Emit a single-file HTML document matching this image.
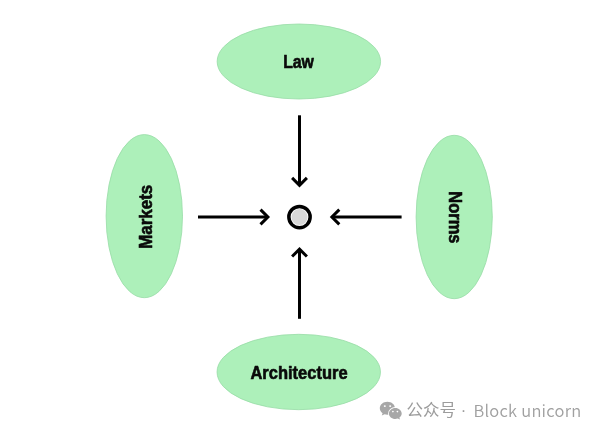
<!DOCTYPE html>
<html>
<head>
<meta charset="utf-8">
<title>Law, Norms, Markets, Architecture</title>
<style>
html,body{margin:0;padding:0;background:#fff;}
body{width:600px;height:435px;overflow:hidden;position:relative;}
svg{display:block;position:absolute;left:0;top:0;will-change:transform;}
.lbl{font-family:"Liberation Sans","DejaVu Sans",sans-serif;font-weight:bold;font-size:17.2px;fill:#0a0a0a;stroke:#0a0a0a;stroke-width:0.6px;stroke-linejoin:round;text-anchor:middle;}
.wm{font-family:"Noto Sans CJK SC","Liberation Sans",sans-serif;font-weight:350;font-size:16.5px;fill:#a0a0a0;}
.wmc{font-family:"Liberation Sans","Noto Sans CJK SC",sans-serif;font-weight:400;font-size:16.5px;fill:#9c9c9c;}
</style>
</head>
<body>
<svg width="600" height="435" viewBox="0 0 600 435">
  <rect width="600" height="435" fill="#ffffff"/>
  <g fill="#adf0ba" stroke="#97dca6" stroke-width="0.8">
    <ellipse cx="298.85" cy="61.5" rx="81.7" ry="37.5"/>
    <ellipse cx="298.75" cy="372" rx="81.7" ry="37.7"/>
    <ellipse cx="144.3" cy="216.15" rx="38.2" ry="81.55"/>
    <ellipse cx="454.2" cy="217" rx="38.1" ry="81.7"/>
  </g>
  <g fill="none" stroke="#000" stroke-width="3" stroke-linecap="butt" stroke-linejoin="miter">
    <path d="M299.5 115.3V185.3"/>
    <path d="M292.1 177.9L299.5 185.3L306.9 177.9"/>
    <path d="M299.5 318.8V249.1"/>
    <path d="M292.1 256.5L299.5 249.1L306.9 256.5"/>
    <path d="M198 217H267.9"/>
    <path d="M260.5 209.6L267.9 217L260.5 224.4"/>
    <path d="M401.6 217H331.9"/>
    <path d="M339.3 209.6L331.9 217L339.3 224.4"/>
  </g>
  <circle cx="299.5" cy="217.1" r="10.65" fill="#fcfcfc" stroke="#000" stroke-width="3.5"/>
  <circle cx="299.5" cy="217.1" r="8" fill="#d9d9d9"/>
  <text class="lbl" transform="translate(298.5 67.8) scale(0.92 1.04)">Law</text>
  <text class="lbl" transform="translate(299 378.6) scale(0.96 1.04)">Architecture</text>
  <text class="lbl" transform="translate(151.7 216.8) rotate(-90) scale(0.985 1.04)">Markets</text>
  <text class="lbl" transform="translate(448.9 217.4) rotate(90) scale(0.96 1.04)">Norms</text>
  <g>
    <path fill="#a7a7a7" d="M387.4 401.7c-4.2 0-7.6 2.9-7.6 6.5 0 2 1.1 3.8 2.8 5l-0.8 2.4 2.8-1.4c0.9 0.3 1.8 0.5 2.8 0.5 4.2 0 7.6-2.9 7.6-6.5s-3.4-6.5-7.6-6.5z"/>
    <ellipse cx="395.3" cy="413.4" rx="7.2" ry="6.3" fill="#fff"/>
    <path fill="#a7a7a7" d="M395.3 407.9c3.5 0 6.4 2.5 6.4 5.5 0 1.7-0.9 3.2-2.3 4.2l0.6 2-2.3-1.1c-0.8 0.2-1.6 0.4-2.4 0.4-3.5 0-6.4-2.5-6.4-5.5s2.9-5.5 6.4-5.5z"/>
    <g fill="#fff">
      <ellipse cx="384.8" cy="406.1" rx="1.05" ry="0.95"/>
      <ellipse cx="390.2" cy="406.1" rx="1.05" ry="0.95"/>
      <ellipse cx="392.9" cy="411.6" rx="0.9" ry="0.8"/>
      <ellipse cx="397.4" cy="411.6" rx="0.9" ry="0.8"/>
    </g>
  </g>
  <text class="wmc" x="406.6" y="416.3">公众号</text>
  <text class="wmc" x="460.7" y="416">·</text>
  <text class="wm" x="473.5" y="417" letter-spacing="0.24">Block unicorn</text>
</svg>
</body>
</html>
